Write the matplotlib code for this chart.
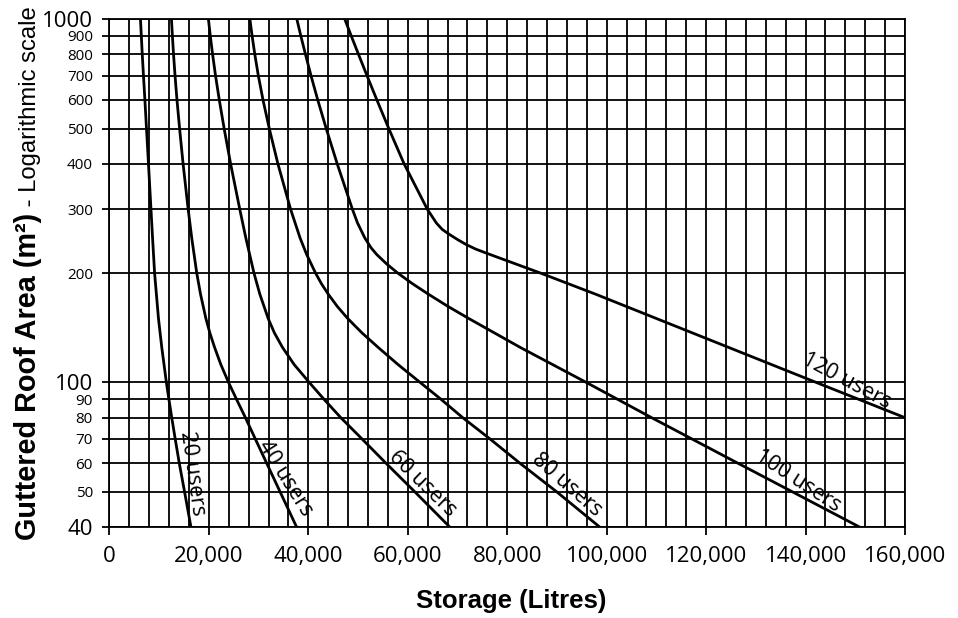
import matplotlib
matplotlib.use("Agg")
import matplotlib.pyplot as plt
from matplotlib.ticker import FixedLocator, MultipleLocator, NullLocator, FuncFormatter

# Storage (litres) at the given roof areas (m2)
area_20 = [1000, 800, 700, 600, 500, 400, 300, 250, 200, 150, 125, 100, 90, 80, 70, 60, 50, 40]
store_20 = [6230, 6590, 6830, 7120, 7440, 7840, 8340, 8660, 9070, 9850, 10510, 11440, 11940,
            12520, 13210, 14030, 15100, 16380]

area_40 = [1000, 900, 800, 700, 600, 500, 400, 300, 250, 200, 175, 150, 137, 125, 112, 100,
           90, 80, 70, 60, 50, 40]
store_40 = [12460, 12650, 12880, 13180, 13570, 14100, 14800, 15820, 16540, 17550, 18310, 19390,
            20180, 21130, 22400, 23950, 25530, 27340, 29310, 31600, 34310, 37630]

area_60 = [1000, 900, 800, 700, 600, 500, 400, 300, 250, 200, 175, 150, 137, 125, 112, 100,
           90, 80, 70, 60, 50, 40]
store_60 = [19900, 20270, 20740, 21320, 22080, 23060, 24360, 26200, 27420, 29060, 30240, 31920,
            33160, 34780, 37150, 40190, 43110, 46530, 50750, 55580, 61410, 68440]

area_80 = [1000, 900, 800, 700, 600, 500, 400, 300, 250, 225, 200, 187, 175, 162, 150, 137,
           125, 112, 100, 90, 80, 70, 60, 50, 40]
store_80 = [28240, 28680, 29230, 29930, 30870, 32140, 33870, 36420, 38330, 39660, 41450, 42630,
            44000, 45810, 47920, 50770, 54010, 58050, 62490, 66630, 71050, 76480, 82510, 89950,
            98590]

area_100 = [1000, 900, 800, 700, 600, 500, 400, 300, 275, 250, 235, 225, 212, 200, 187, 175,
            162, 150, 125, 100, 80, 60, 40]
store_100 = [37690, 38480, 39420, 40520, 41880, 43590, 45800, 48850, 49880, 51350, 52600, 53760,
             55750, 58000, 60950, 64150, 68070, 72270, 82570, 95920, 109040, 126330, 150850]

area_120 = [1000, 900, 800, 700, 600, 500, 400, 300, 275, 264, 256, 248, 240, 233, 227, 200,
            175, 150, 100, 80]
store_120 = [47330, 48620, 50090, 51780, 53770, 56180, 59250, 63920, 65730, 66910, 68300, 69890,
             71680, 73650, 75820, 86730, 97790, 110010, 142170, 160000]

curve_names = ["20 users", "40 users", "60 users", "80 users", "100 users", "120 users"]
label_x = [16580, 35280, 63010, 91960, 138390, 148240]
label_y = [56.2, 54.5, 52.8, 52.1, 53.5, 100.8]
label_rot = [-82, -58, -44, -41, -33, -28]

y_ticks = [40, 50, 60, 70, 80, 90, 100, 200, 300, 400, 500, 600, 700, 800, 900, 1000]
big_y = [40, 100, 1000]

plt.rcParams['font.family'] = ['Open Sans', 'DejaVu Sans']

fig = plt.figure(figsize=(9.58, 6.18), dpi=100)
ax = fig.add_axes([0.1143, 0.1472, 0.8304, 0.8216])

curves = [(store_20, area_20), (store_40, area_40), (store_60, area_60),
          (store_80, area_80), (store_100, area_100), (store_120, area_120)]
for xs, ys in curves:
    ax.plot(xs, ys, color='black', lw=2.0, zorder=3, solid_joinstyle='round')

for name, lx, ly, rot in zip(curve_names, label_x, label_y, label_rot):
    ax.text(lx, ly, name, rotation=rot, rotation_mode='anchor', ha='center', va='center',
            fontsize=15.5, zorder=4)

ax.set_yscale('log')
ax.set_ylim(40, 1000)
ax.set_xlim(0, 160000)

ax.yaxis.set_major_locator(FixedLocator(y_ticks))
ax.yaxis.set_minor_locator(NullLocator())
ax.yaxis.set_major_formatter(FuncFormatter(lambda v, p: "%d" % v))
ax.xaxis.set_major_locator(MultipleLocator(20000))
ax.xaxis.set_minor_locator(MultipleLocator(4000))
ax.xaxis.set_major_formatter(FuncFormatter(lambda v, p: "{:,}".format(int(v))))

ax.grid(which='both', axis='x', color='black', lw=1.3)
ax.grid(which='major', axis='y', color='black', lw=1.3)
ax.set_axisbelow(True)

ax.tick_params(axis='x', which='major', length=6, width=1.3, pad=8, labelsize=16)
ax.tick_params(axis='x', which='minor', length=0)
ax.tick_params(axis='y', which='major', length=5, width=1.3, pad=7)
for lab in ax.get_yticklabels():
    v = float(lab.get_text())
    lab.set_fontsize(16 if v in big_y else 11)

for s in ax.spines.values():
    s.set_linewidth(1.3)

fig.text(511 / 958, 1 - 601 / 618, "Storage (Litres)", ha='center', va='center',
         fontsize=18.5, fontweight='bold', family='Liberation Sans')

t1 = fig.text(36 / 958, (618 - 540) / 618, "Guttered Roof Area (m²)", rotation=90,
              rotation_mode='anchor', ha='left', va='baseline',
              fontsize=20.8, fontweight='bold', family='Liberation Sans')
fig.canvas.draw()
bb = t1.get_window_extent()
fig.text(36 / 958, bb.y1 / fig.bbox.height, " - Logarithmic scale", rotation=90,
         rotation_mode='anchor', ha='left', va='baseline',
         fontsize=17.2, family='Liberation Sans')

fig.savefig("out.png", dpi=100)
